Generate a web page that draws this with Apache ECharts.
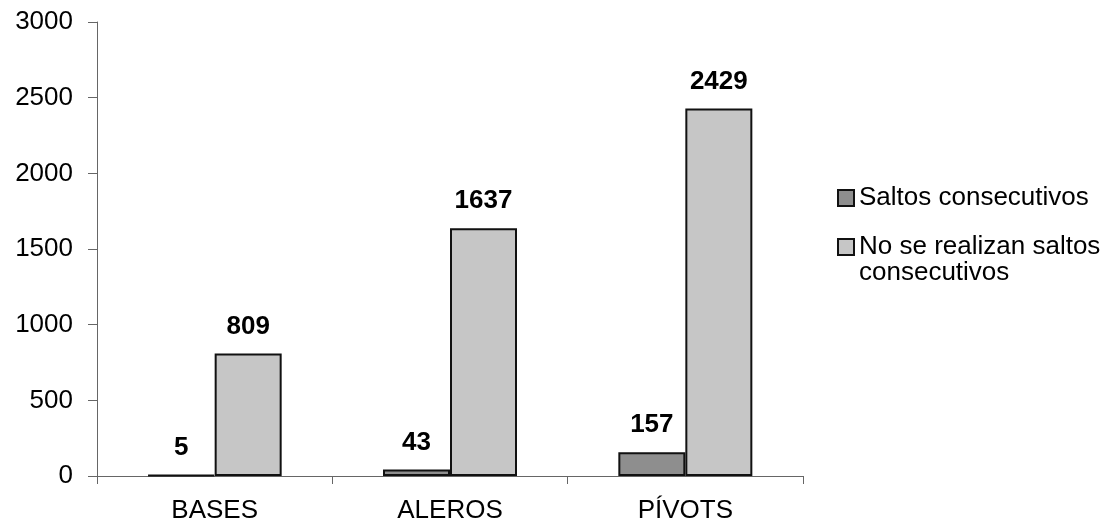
<!DOCTYPE html>
<html>
<head>
<meta charset="utf-8">
<script src="https://cdn.jsdelivr.net/npm/echarts@6/dist/echarts.min.js"></script>
<style>
  html, body { margin: 0; padding: 0; background: #ffffff; }
  #chart { width: 1108px; height: 530px; }
</style>
</head>
<body>
<div id="chart"></div>
<script>
// Jump counts by playing position
const categories = ['BASES', 'ALEROS', 'PÍVOTS'];
const seriesNames = ['Saltos consecutivos', 'No se realizan saltos consecutivos'];
const saltosConsecutivos = [5, 43, 157];
const noSaltosConsecutivos = [809, 1637, 2429];
const yTicks = [0, 500, 1000, 1500, 2000, 2500, 3000];

const FONT = "'Liberation Sans', Arial, sans-serif";
const axisColor = '#666666';

const labelStyle = {
  show: true,
  position: 'top',
  distance: 14,
  color: '#000000',
  fontFamily: FONT,
  fontWeight: 'bold',
  fontSize: 26
};

const legendText = { fontFamily: FONT, fontSize: 26, lineHeight: 26, color: '#000000' };

const chart = echarts.init(document.getElementById('chart'), null, { renderer: 'canvas' });

chart.setOption({
  animation: false,
  backgroundColor: '#ffffff',
  grid: { left: 97, right: 305, top: 22, bottom: 54, containLabel: false },
  legend: [
    {
      orient: 'vertical',
      left: 832,
      top: 180,
      icon: 'rect',
      data: [seriesNames[0]],
      itemWidth: 16,
      itemHeight: 16,
      itemGap: 0,
      textStyle: legendText
    },
    {
      // leading empty line keeps the swatch beside the first text line
      orient: 'vertical',
      left: 832,
      top: 203,
      icon: 'rect',
      data: [seriesNames[1]],
      itemWidth: 16,
      itemHeight: 16,
      formatter: () => ' \nNo se realizan saltos\nconsecutivos',
      textStyle: legendText
    }
  ],
  xAxis: {
    type: 'category',
    data: categories,
    axisLine: { lineStyle: { color: axisColor, width: 1 } },
    axisTick: { show: true, length: 8, inside: false, lineStyle: { color: axisColor } },
    axisLabel: { margin: 22, color: '#000000', fontFamily: FONT, fontSize: 26 },
    splitLine: { show: false }
  },
  yAxis: {
    type: 'value',
    min: yTicks[0],
    max: yTicks[yTicks.length - 1],
    interval: yTicks[1] - yTicks[0],
    axisLine: { show: true, lineStyle: { color: axisColor, width: 1 } },
    axisTick: { show: true, length: 9, lineStyle: { color: axisColor } },
    axisLabel: {
      margin: 24, color: '#000000', fontFamily: FONT, fontSize: 26,
      formatter: (v) => String(v)
    },
    splitLine: { show: false }
  },
  series: [
    {
      name: seriesNames[0],
      type: 'bar',
      data: saltosConsecutivos,
      barWidth: 67,
      barGap: '0%',
      itemStyle: { color: '#8e8e8e', borderColor: '#111111', borderWidth: 2 },
      label: labelStyle
    },
    {
      name: seriesNames[1],
      type: 'bar',
      data: noSaltosConsecutivos,
      barWidth: 67,
      barGap: '0%',
      itemStyle: { color: '#c6c6c6', borderColor: '#111111', borderWidth: 2 },
      label: labelStyle
    }
  ]
});
</script>
</body>
</html>
